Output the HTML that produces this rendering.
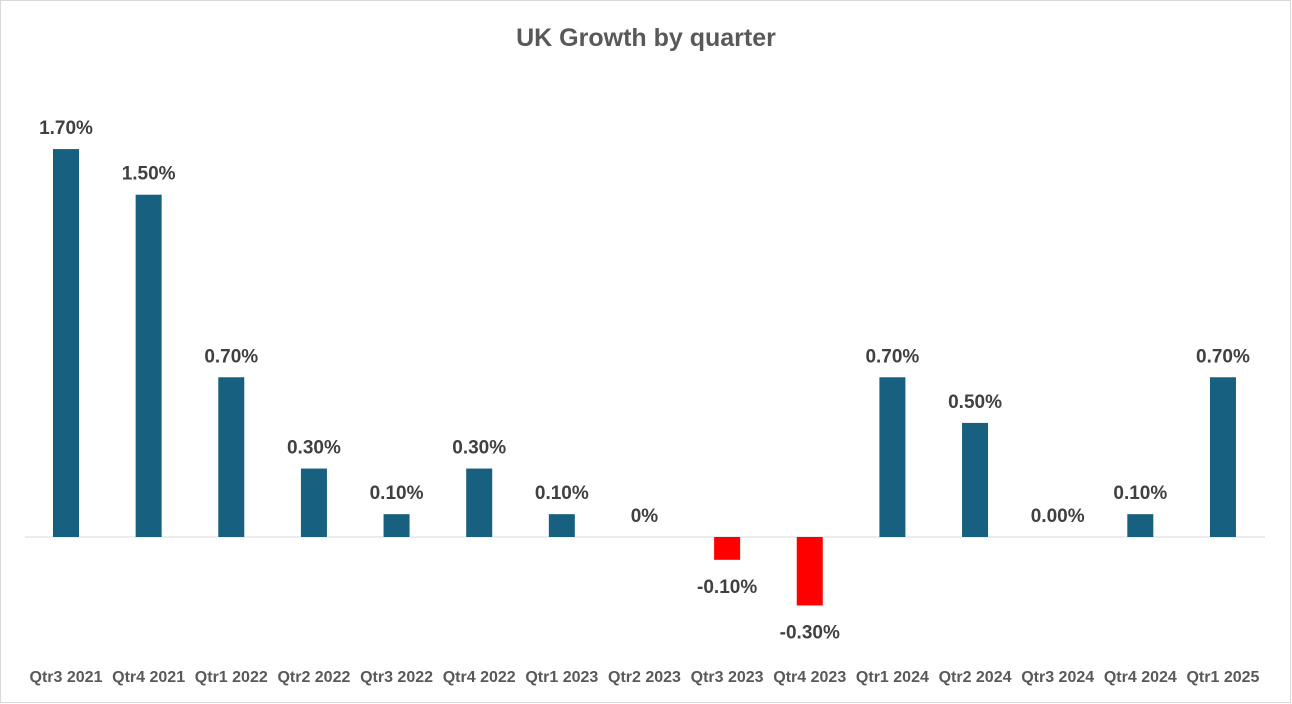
<!DOCTYPE html>
<html><head><meta charset="utf-8"><style>
body{margin:0;background:#fff;}
svg{display:block;font-family:"Liberation Sans",sans-serif;}
</style></head><body>
<svg id="chart" width="1292" height="704">
<rect x="0.5" y="0.5" width="1290" height="702" fill="#fff" stroke="#d9d9d9"/>
<text x="646" y="46" text-anchor="middle" font-size="25" font-weight="bold" fill="#595959">UK Growth by quarter</text>
<line x1="25" y1="537" x2="1265" y2="537" stroke="#d9d9d9" stroke-width="1"/>
<g id="bars"></g>
</svg>
<script>
const categories=["Qtr3 2021","Qtr4 2021","Qtr1 2022","Qtr2 2022","Qtr3 2022","Qtr4 2022","Qtr1 2023","Qtr2 2023","Qtr3 2023","Qtr4 2023","Qtr1 2024","Qtr2 2024","Qtr3 2024","Qtr4 2024","Qtr1 2025"];
const values=[1.7,1.5,0.7,0.3,0.1,0.3,0.1,0,-0.1,-0.3,0.7,0.5,0,0.1,0.7];
const valueLabels=["1.70%","1.50%","0.70%","0.30%","0.10%","0.30%","0.10%","0%","-0.10%","-0.30%","0.70%","0.50%","0.00%","0.10%","0.70%"];
const ns="http://www.w3.org/2000/svg";
const g=document.getElementById('bars');
function xScale(i){return 66+i*82.64;}
function yScale(v){return 537-v*228.2;}
const bw=26;
categories.forEach((c,i)=>{
  const v=values[i],x=xScale(i),y0=yScale(0),y1=yScale(v);
  const r=document.createElementNS(ns,'rect');
  r.setAttribute('x',x-bw/2);r.setAttribute('y',Math.min(y0,y1));
  r.setAttribute('width',bw);r.setAttribute('height',Math.abs(y1-y0));
  r.setAttribute('fill',v<0?'#ff0000':'#17607f');
  
  
  g.appendChild(r);
  const t=document.createElementNS(ns,'text');
  t.setAttribute('x',x);
  t.setAttribute('y',v<0?y1+33:y1-15);
  t.setAttribute('text-anchor','middle');t.setAttribute('font-size','19');
  t.setAttribute('font-weight','bold');t.setAttribute('fill','#404040');
  t.textContent=valueLabels[i];
  
  
  g.appendChild(t);
  const l=document.createElementNS(ns,'text');
  l.setAttribute('x',x);l.setAttribute('y',682);
  l.setAttribute('text-anchor','middle');l.setAttribute('font-size','16');
  l.setAttribute('font-weight','bold');l.setAttribute('fill','#595959');
  l.textContent=c;
  
  
  g.appendChild(l);
});
</script>
</body></html>
